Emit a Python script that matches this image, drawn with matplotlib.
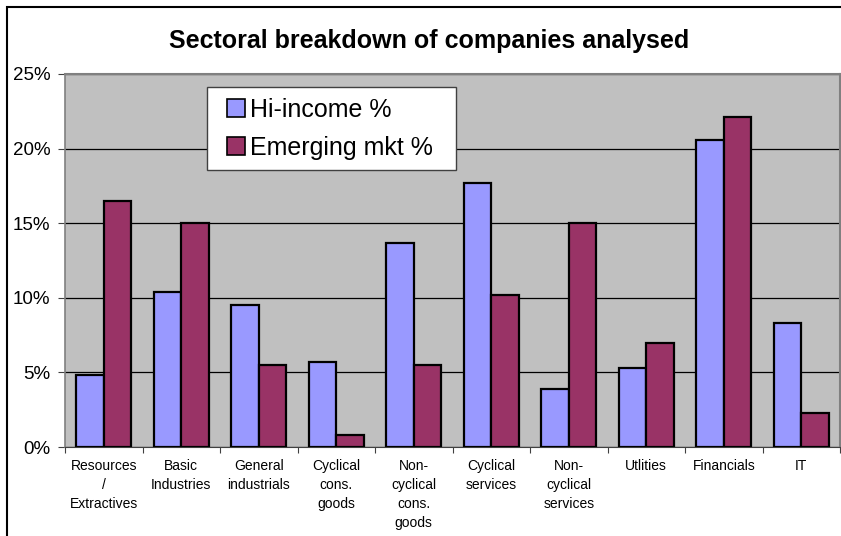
import numpy as np
import matplotlib
matplotlib.use('Agg')
from matplotlib import pyplot as plt
from matplotlib.patches import Rectangle
from matplotlib.ticker import FuncFormatter, FixedLocator

plt.rcParams['font.family'] = ['Liberation Sans', 'DejaVu Sans']

sectors = ['Resources\n/\nExtractives', 'Basic\nIndustries', 'General\nindustrials',
           'Cyclical\ncons.\ngoods', 'Non-\ncyclical\ncons.\ngoods', 'Cyclical\nservices',
           'Non-\ncyclical\nservices', 'Utlities', 'Financials', 'IT']
hi_income = [4.8, 10.4, 9.5, 5.7, 13.7, 17.7, 3.9, 5.3, 20.6, 8.3]
emerging = [16.5, 15.0, 5.5, 0.8, 5.5, 10.2, 15.0, 7.0, 22.1, 2.3]
series_names = ['Hi-income %', 'Emerging mkt %']

W, H = 841, 536
fig = plt.figure(figsize=(W / 100, H / 100), dpi=100)


def px(x0, y0):
    # pixel position (from top-left) -> figure fraction
    return x0 / W, 1 - y0 / H


# outer chart border (right and bottom edges run off the canvas)
fig.patches.append(Rectangle((7 / W, -0.1), 1.0, 1 - 7 / H + 0.1, transform=fig.transFigure,
                             fill=False, edgecolor='black', linewidth=1.5))

# plot area in pixels: left 65, right 840, top 74, bottom 447
L, R, T, B = 65, 840, 74, 447
ax = fig.add_axes([L / W, 1 - B / H, (R - L) / W, (B - T) / H])
ax.set_facecolor('#C0C0C0')

x = np.arange(len(sectors))
bw = 0.355
ax.bar(x - bw / 2, hi_income, bw, color='#9999FF', edgecolor='black', linewidth=1.6,
       label=series_names[0], zorder=3)
ax.bar(x + bw / 2, emerging, bw, color='#993366', edgecolor='black', linewidth=1.6,
       label=series_names[1], zorder=3)

ax.set_xlim(-0.5, len(sectors) - 0.5)
ax.set_ylim(0, 25)
ax.set_yticks(np.arange(0, 26, 5))
ax.yaxis.set_major_formatter(FuncFormatter(lambda v, p: '%d%%' % v))
ax.grid(axis='y', color='black', linewidth=0.9, zorder=1)

# category ticks sit between groups, labels centred under each group
ax.xaxis.set_major_locator(FixedLocator(np.arange(-0.5, len(sectors), 1.0)))
ax.xaxis.set_minor_locator(FixedLocator(x))
ax.set_xticklabels([])
ax.set_xticklabels(sectors, minor=True, fontsize=10, linespacing=1.45, va='top')
ax.tick_params(axis='x', which='major', direction='out', length=4, width=0.8, color='#404040')
ax.tick_params(axis='x', which='minor', length=0, pad=8.5)
ax.tick_params(axis='y', direction='out', length=5, width=0.8, color='#404040',
               labelsize=13.5, pad=5.5)

for side in ['top', 'right']:
    ax.spines[side].set_color('#808080')
    ax.spines[side].set_linewidth(1.5)
ax.spines['left'].set_color('#808080')
ax.spines['left'].set_linewidth(1.2)
ax.spines['bottom'].set_color('#404040')

fig.text(*px(429, 48), 'Sectoral breakdown of companies analysed',
         ha='center', va='baseline', fontsize=18, fontweight='bold')

# legend box drawn separately so its padding can differ across / down
lx0, ly0 = px(207, 170)
lx1, ly1 = px(456, 87)
fig.patches.append(Rectangle((lx0, ly0), lx1 - lx0, ly1 - ly0, transform=fig.transFigure,
                             facecolor='white', edgecolor='#404040', linewidth=1.0, zorder=4))
leg = fig.legend(*ax.get_legend_handles_labels(), loc='center left',
                 bbox_to_anchor=px(227, 129), bbox_transform=fig.transFigure,
                 frameon=False, fontsize=18, handlelength=0.72, handleheight=0.72,
                 handletextpad=0.2, borderpad=0, labelspacing=0.55, borderaxespad=0)
for h in leg.legend_handles:
    h.set_linewidth(1.2)
leg.set_zorder(5)

fig.savefig('out.png', dpi=100)
